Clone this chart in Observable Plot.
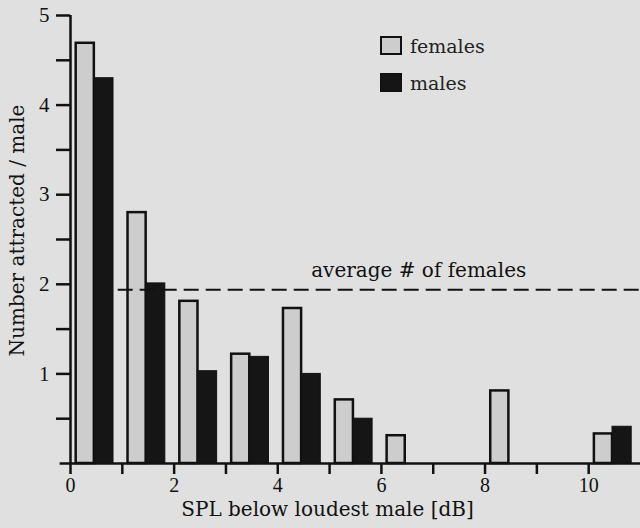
<!DOCTYPE html>
<html>
<head>
<meta charset="utf-8">
<script src="https://cdn.jsdelivr.net/npm/d3@7"></script>
<script src="https://cdn.jsdelivr.net/npm/@observablehq/plot@0.6"></script>
<style>
  body { margin: 0; background: #e0e0e0; }
  #chart { position: relative; width: 640px; height: 528px; font-family: "DejaVu Serif", serif; }
  #chart svg { display: block; }
  .legend { position: absolute; left: 380px; top: 27px; font-size: 19px; color: #222; }
  .legend div { display: flex; align-items: center; height: 37px; }
  .legend span.sw { width: 18px; height: 15px; border: 2px solid #111; margin-right: 8px; }
</style>
</head>
<body>
<div id="chart"></div>
<script>
// Attraction per male, binned by sound pressure level below the loudest male
const bins = [0, 1, 2, 3, 4, 5, 6, 7, 8, 9, 10];
const females = [4.69, 2.80, 1.81, 1.22, 1.73, 0.71, 0.31, 0, 0.81, 0, 0.33];
const males = [4.30, 2.01, 1.03, 1.19, 1.00, 0.50, 0, 0, 0, 0, 0.41];
const averageFemales = 1.94;
const averageLabel = "average # of females";
const xTickLabels = [0, 2, 4, 6, 8, 10];
const yTickLabels = [1, 2, 3, 4, 5];

const femaleFill = "#cdcdcd";
const maleFill = "#151515";
const ink = "#111";
const labelFont = "'DejaVu Serif', serif";
const tickFont = "'Liberation Serif', serif";

const rows = bins.map((b, i) => ({bin: b, female: females[i], male: males[i]}));

const chart = Plot.plot({
  width: 640,
  height: 528,
  marginLeft: 70,
  marginRight: 0,
  marginTop: 15,
  marginBottom: 65,
  style: {background: "transparent", fontFamily: labelFont, fontSize: "20px", color: ink},
  x: {domain: [0, 11]},
  y: {domain: [0, 5]},
  marks: [
    // females: light bars with a dark outline, left part of each 1 dB bin
    Plot.rectY(rows.filter(d => d.female > 0), {
      x1: d => d.bin + 0.11, x2: d => d.bin + 0.46, y: "female",
      fill: femaleFill, stroke: ink, strokeWidth: 2.5, inset: 0
    }),
    // males: solid dark bars next to them
    Plot.rectY(rows.filter(d => d.male > 0), {
      x1: d => d.bin + 0.46, x2: d => d.bin + 0.83, y: "male",
      fill: maleFill, stroke: ink, strokeWidth: 1, inset: 0
    }),
    // mean number of females per male
    Plot.ruleY([averageFemales], {x1: 0.92, x2: 11, stroke: ink, strokeWidth: 2, strokeDasharray: "15,7"}),
    Plot.text([averageLabel], {x: 6.72, y: averageFemales, dy: -19, fontSize: 20, fontFamily: labelFont, fill: ink}),
    // axes
    Plot.axisY(d3.range(0.5, 5.01, 0.5), {
      tickSize: 14, tickPadding: 7, strokeWidth: 2.5, stroke: ink, fontFamily: tickFont,
      tickFormat: d => yTickLabels.includes(d) ? d : "", label: null, fontSize: 21
    }),
    Plot.axisX(d3.range(0, 11), {
      tickSize: 11, tickPadding: 3, strokeWidth: 2.5, stroke: ink, fontFamily: tickFont,
      tickFormat: d => xTickLabels.includes(d) ? d : "", label: null, fontSize: 20
    }),
    Plot.ruleX([0], {y1: 0, y2: 5, stroke: ink, strokeWidth: 2.5}),
    Plot.ruleY([0], {x1: -0.2, x2: 11, stroke: ink, strokeWidth: 2.5}),
    Plot.text(["Number attracted / male"], {
      frameAnchor: "left", textAnchor: "middle", rotate: -90, dx: -53, dy: -9,
      fontSize: 20, fontFamily: labelFont, fill: ink
    }),
    Plot.text(["SPL below loudest male [dB]"], {
      frameAnchor: "bottom", textAnchor: "middle", dy: 52, dx: -28,
      fontSize: 20, fontFamily: labelFont, fill: ink
    })
  ]
});

const wrap = document.getElementById("chart");
wrap.appendChild(chart);

const legend = document.createElement("div");
legend.className = "legend";
legend.innerHTML =
  `<div><span class="sw" style="background:${femaleFill}"></span>females</div>` +
  `<div><span class="sw" style="background:${maleFill}"></span>males</div>`;
wrap.appendChild(legend);
</script>
</body>
</html>
